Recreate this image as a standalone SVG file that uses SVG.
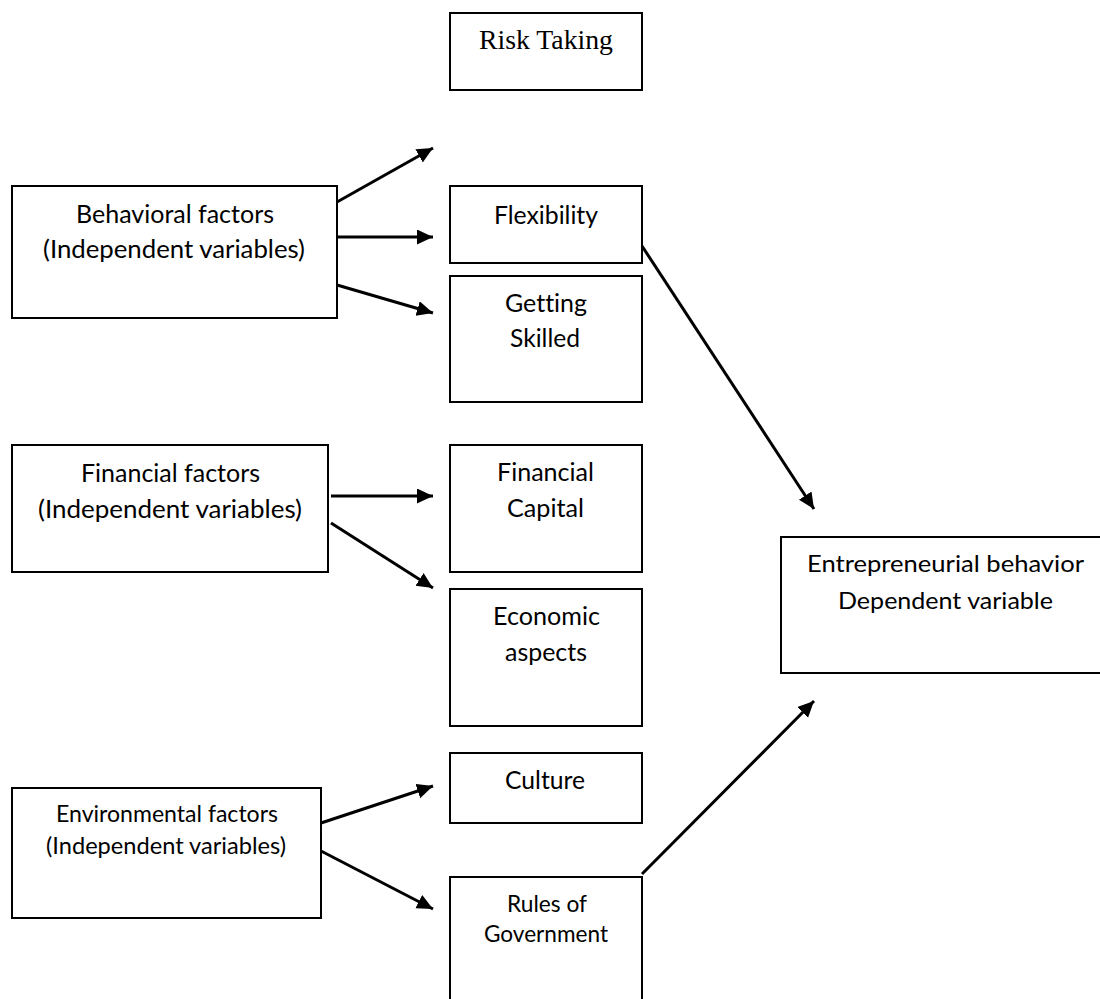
<svg xmlns="http://www.w3.org/2000/svg" width="1100" height="999" viewBox="0 0 1100 999">
<style>
.box{fill:#fff;stroke:#000;stroke-width:2}
.t{font-family:Lato,"Open Sans","Liberation Sans",sans-serif;font-size:25px;fill:#000;text-anchor:start;font-variant-ligatures:none}
.s{font-size:23px}
.serif{font-family:"Liberation Serif","Times New Roman",serif;font-size:27px;fill:#000}
.arr{stroke:#000;stroke-width:3;fill:none;marker-end:url(#ah)}
</style>
<defs>
<marker id="ah" markerUnits="userSpaceOnUse" markerWidth="18" markerHeight="16" refX="16" refY="7.5" orient="auto" viewBox="0 0 18 16">
<path d="M0,0 L16,7.5 L0,15 z" fill="#000"/>
</marker>
</defs>
<rect width="1100" height="999" fill="#fff"/>
<g id="risk-taking">
<rect class="box" x="450" y="13" width="192" height="77"/>
<text class="serif" x="479" y="49" textLength="134" lengthAdjust="spacingAndGlyphs">Risk Taking</text>
</g>
<g id="behavioral">
<rect class="box" x="12" y="186" width="325" height="132"/>
<text class="t" x="76" y="223" textLength="198" lengthAdjust="spacingAndGlyphs">Behavioral factors</text>
<text class="t" x="43" y="258" textLength="262" lengthAdjust="spacingAndGlyphs">(Independent variables)</text>
</g>
<g id="flexibility">
<rect class="box" x="450" y="186" width="192" height="77"/>
<text class="t" x="494" y="224" textLength="104" lengthAdjust="spacingAndGlyphs">Flexibility</text>
</g>
<g id="getting-skilled">
<rect class="box" x="450" y="276" width="192" height="126"/>
<text class="t" x="505" y="312" textLength="82" lengthAdjust="spacingAndGlyphs">Getting</text>
<text class="t" x="510" y="347" textLength="70" lengthAdjust="spacingAndGlyphs">Skilled</text>
</g>
<g id="financial-factors">
<rect class="box" x="12" y="445" width="316" height="127"/>
<text class="t" x="81" y="482" textLength="179" lengthAdjust="spacingAndGlyphs">Financial factors</text>
<text class="t" x="38" y="518" textLength="264" lengthAdjust="spacingAndGlyphs">(Independent variables)</text>
</g>
<g id="financial-capital">
<rect class="box" x="450" y="445" width="192" height="127"/>
<text class="t" x="497" y="481" textLength="97" lengthAdjust="spacingAndGlyphs">Financial</text>
<text class="t" x="507" y="517" textLength="77" lengthAdjust="spacingAndGlyphs">Capital</text>
</g>
<g id="economic-aspects">
<rect class="box" x="450" y="589" width="192" height="137"/>
<text class="t" x="493" y="625" textLength="107" lengthAdjust="spacingAndGlyphs">Economic</text>
<text class="t" x="505" y="661" textLength="82" lengthAdjust="spacingAndGlyphs">aspects</text>
</g>
<g id="culture">
<rect class="box" x="450" y="753" width="192" height="70"/>
<text class="t" x="505" y="789" textLength="80" lengthAdjust="spacingAndGlyphs">Culture</text>
</g>
<g id="environmental">
<rect class="box" x="12" y="788" width="309" height="130"/>
<text class="t s" x="56" y="822" textLength="222" lengthAdjust="spacingAndGlyphs">Environmental factors</text>
<text class="t s" x="46" y="854" textLength="240" lengthAdjust="spacingAndGlyphs">(Independent variables)</text>
</g>
<g id="rules-of-government">
<rect class="box" x="450" y="877" width="192" height="140"/>
<text class="t s" x="507" y="912" textLength="80" lengthAdjust="spacingAndGlyphs">Rules of</text>
<text class="t s" x="484" y="942" textLength="124" lengthAdjust="spacingAndGlyphs">Government</text>
</g>
<g id="entrepreneurial-behavior">
<rect class="box" x="781" y="537" width="340" height="136"/>
<text class="t s" x="807" y="572" textLength="277" lengthAdjust="spacingAndGlyphs">Entrepreneurial behavior</text>
<text class="t s" x="838" y="609" textLength="215" lengthAdjust="spacingAndGlyphs">Dependent variable</text>
</g>
<g id="connectors">
<line class="arr" x1="337" y1="202" x2="433" y2="148"/>
<line class="arr" x1="337" y1="237" x2="433" y2="237"/>
<line class="arr" x1="337" y1="285" x2="433" y2="313"/>
<line class="arr" x1="331" y1="496" x2="433" y2="496"/>
<line class="arr" x1="331" y1="523" x2="433" y2="588"/>
<line class="arr" x1="321" y1="823" x2="433" y2="786"/>
<line class="arr" x1="321" y1="851" x2="433" y2="909"/>
<line class="arr" x1="642" y1="246" x2="814" y2="509"/>
<line class="arr" x1="642" y1="874" x2="814" y2="701"/>
</g>
</svg>
